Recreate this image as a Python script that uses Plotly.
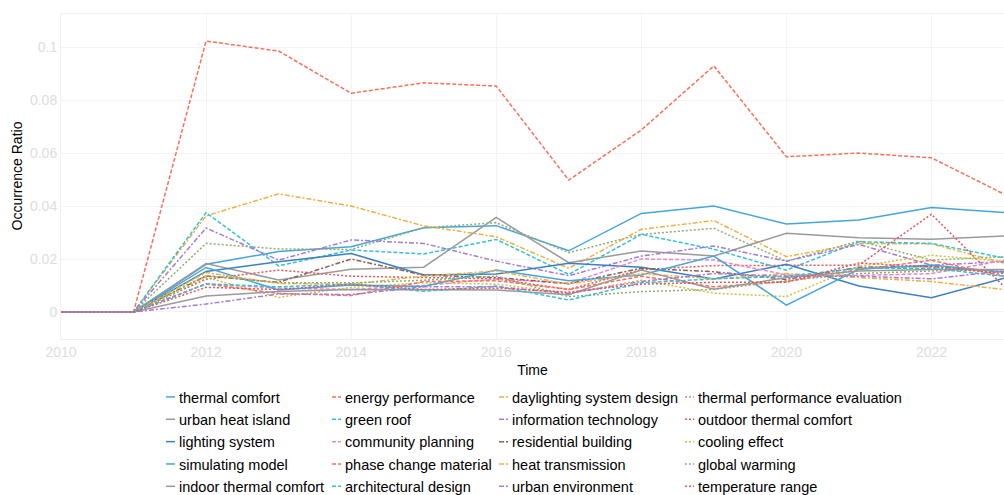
import plotly.graph_objects as go

years = list(range(2010, 2024))

thermal_comfort = [0, 0, 0.0180, 0.0228, 0.0246, 0.0318, 0.0326, 0.0231, 0.0372, 0.0400, 0.0332, 0.0347, 0.0394, 0.0376]
energy_performance = [0, 0, 0.1023, 0.0985, 0.0826, 0.0865, 0.0853, 0.0498, 0.0687, 0.0929, 0.0586, 0.0600, 0.0582, 0.0445]
daylighting_system_design = [0, 0, 0.0363, 0.0446, 0.0400, 0.0325, 0.0284, 0.0165, 0.0312, 0.0345, 0.0209, 0.0259, 0.0257, 0.0185]
thermal_performance_evaluation = [0, 0, 0.0259, 0.0238, 0.0236, 0.0318, 0.0337, 0.0224, 0.0293, 0.0316, 0.0192, 0.0268, 0.0196, 0.0209]
urban_heat_island = [0, 0, 0.0183, 0.0121, 0.0161, 0.0169, 0.0357, 0.0186, 0.0230, 0.0211, 0.0297, 0.0280, 0.0275, 0.0287]
green_roof = [0, 0, 0.0375, 0.0174, 0.0234, 0.0219, 0.0274, 0.0142, 0.0293, 0.0237, 0.0158, 0.0265, 0.0259, 0.0204]
information_technology = [0, 0, 0.0317, 0.0196, 0.0272, 0.0259, 0.0192, 0.0137, 0.0211, 0.0249, 0.0192, 0.0255, 0.0177, 0.0190]
outdoor_thermal_comfort = [0, 0, 0.0124, 0.0158, 0.0135, 0.0130, 0.0125, 0.0085, 0.0160, 0.0175, 0.0177, 0.0177, 0.0369, 0.0096]
lighting_system = [0, 0, 0.0153, 0.0190, 0.0221, 0.0140, 0.0143, 0.0184, 0.0169, 0.0125, 0.0180, 0.0098, 0.0054, 0.0127]
community_planning = [0, 0, 0.0106, 0.0090, 0.0085, 0.0100, 0.0125, 0.0108, 0.0200, 0.0196, 0.0140, 0.0138, 0.0145, 0.0195]
residential_building = [0, 0, 0.0136, 0.0112, 0.0200, 0.0139, 0.0130, 0.0107, 0.0165, 0.0152, 0.0123, 0.0169, 0.0172, 0.0152]
cooling_effect = [0, 0, 0.0131, 0.0055, 0.0093, 0.0110, 0.0105, 0.0071, 0.0120, 0.0071, 0.0058, 0.0173, 0.0214, 0.0191]
simulating_model = [0, 0, 0.0168, 0.0083, 0.0102, 0.0096, 0.0158, 0.0118, 0.0140, 0.0211, 0.0026, 0.0161, 0.0177, 0.0150]
phase_change_material = [0, 0, 0.0106, 0.0070, 0.0062, 0.0115, 0.0118, 0.0085, 0.0135, 0.0095, 0.0115, 0.0160, 0.0195, 0.0135]
heat_transmission = [0, 0, 0.0149, 0.0108, 0.0105, 0.0135, 0.0155, 0.0105, 0.0145, 0.0125, 0.0145, 0.0130, 0.0115, 0.0085]
global_warming = [0, 0, 0.0137, 0.0110, 0.0110, 0.0120, 0.0135, 0.0058, 0.0077, 0.0085, 0.0118, 0.0145, 0.0155, 0.0160]
indoor_thermal_comfort = [0, 0, 0.0060, 0.0077, 0.0085, 0.0085, 0.0083, 0.0065, 0.0158, 0.0086, 0.0130, 0.0155, 0.0160, 0.0160]
architectural_design = [0, 0, 0.0106, 0.0095, 0.0105, 0.0078, 0.0098, 0.0045, 0.0110, 0.0125, 0.0135, 0.0165, 0.0165, 0.0135]
urban_environment = [0, 0, 0.0030, 0.0068, 0.0066, 0.0095, 0.0095, 0.0070, 0.0115, 0.0145, 0.0135, 0.0135, 0.0125, 0.0155]
temperature_range = [0, 0, 0.0093, 0.0085, 0.0105, 0.0085, 0.0090, 0.0075, 0.0105, 0.0112, 0.0112, 0.0185, 0.0170, 0.0145]

series = [
    ("thermal comfort", thermal_comfort),
    ("energy performance", energy_performance),
    ("daylighting system design", daylighting_system_design),
    ("thermal performance evaluation", thermal_performance_evaluation),
    ("urban heat island", urban_heat_island),
    ("green roof", green_roof),
    ("information technology", information_technology),
    ("outdoor thermal comfort", outdoor_thermal_comfort),
    ("lighting system", lighting_system),
    ("community planning", community_planning),
    ("residential building", residential_building),
    ("cooling effect", cooling_effect),
    ("simulating model", simulating_model),
    ("phase change material", phase_change_material),
    ("heat transmission", heat_transmission),
    ("global warming", global_warming),
    ("indoor thermal comfort", indoor_thermal_comfort),
    ("architectural design", architectural_design),
    ("urban environment", urban_environment),
    ("temperature range", temperature_range),
]

palette = ["#45a5dd", "#f7705c", "#f0b040", "#8fae6e", "#9a9a9a", "#34c0d6",
           "#a47bd6", "#e8555a", "#3a80c2", "#ec85c6", "#8e6156", "#c5c440"]
dashes = ["solid", "4px,2px", "5px,2px,2px,2px", "2px,2px"]
legend_ids = ["legend", "legend2", "legend3", "legend4"]

fig = go.Figure()
for i, (name, vals) in enumerate(series):
    fig.add_trace(go.Scatter(
        x=years, y=vals, name=name, mode="lines", legendgroup=name,
        line=dict(color=palette[i % 12], width=1.5, dash=dashes[i % 4]),
        legend=legend_ids[i % 4],
    ))

font_family = "Arial, Liberation Sans, sans-serif"
legend_x = [139, 305, 472, 658]
legend_common = dict(orientation="v", xref="container", yref="container",
                     yanchor="top", xanchor="left", y=1 - 381 / 495,
                     tracegroupgap=0.5,
                     font=dict(family=font_family, size=14.5, color="#000"),
                     bgcolor="rgba(0,0,0,0)")

fig.update_layout(
    width=1004, height=495,
    margin=dict(l=61, r=0, t=14, b=156, autoexpand=False),
    paper_bgcolor="white", plot_bgcolor="white",
    font=dict(family=font_family, size=14, color="#000"),
    showlegend=True,
    legend=dict(x=legend_x[0] / 1004, **legend_common),
    legend2=dict(x=legend_x[1] / 1004, **legend_common),
    legend3=dict(x=legend_x[2] / 1004, **legend_common),
    legend4=dict(x=legend_x[3] / 1004, **legend_common),
    xaxis=dict(
        range=[2010, 2023], dtick=2, tick0=2010,
        showgrid=True, gridcolor="#f3f3f3", zeroline=False,
        showline=True, mirror=True, linecolor="#f1f1f1",
        tickfont=dict(color="#dddddd", size=14),
        title=dict(text="Time", font=dict(color="#000", size=14), standoff=6),
    ),
    yaxis=dict(
        range=[-0.0102, 0.1125], tickvals=[0, 0.02, 0.04, 0.06, 0.08, 0.1],
        ticktext=["0", "0.02", "0.04", "0.06", "0.08", "0.1"],
        showgrid=True, gridcolor="#f3f3f3", zeroline=False,
        showline=True, mirror=True, linecolor="#f1f1f1",
        tickfont=dict(color="#dddddd", size=14),
    ),
    annotations=[dict(
        text="Occurrence Ratio", textangle=-90, showarrow=False,
        xref="paper", yref="paper", x=(16 - 61) / 943, y=0.5,
        xanchor="center", yanchor="middle",
        font=dict(family=font_family, size=14, color="#000"),
    )],
)

# compact legend keys: shorten each legend line sample to a short stub
shorten_keys = """
var gd = document.getElementById('{plot_id}');
function shortKeys() {
  gd.querySelectorAll('.legendlines path').forEach(function(p) {
    p.setAttribute('d', 'M27,0h9');
  });
}
shortKeys();
gd.on('plotly_afterplot', shortKeys);
"""

fig.write_html("out.html", post_script=shorten_keys)
